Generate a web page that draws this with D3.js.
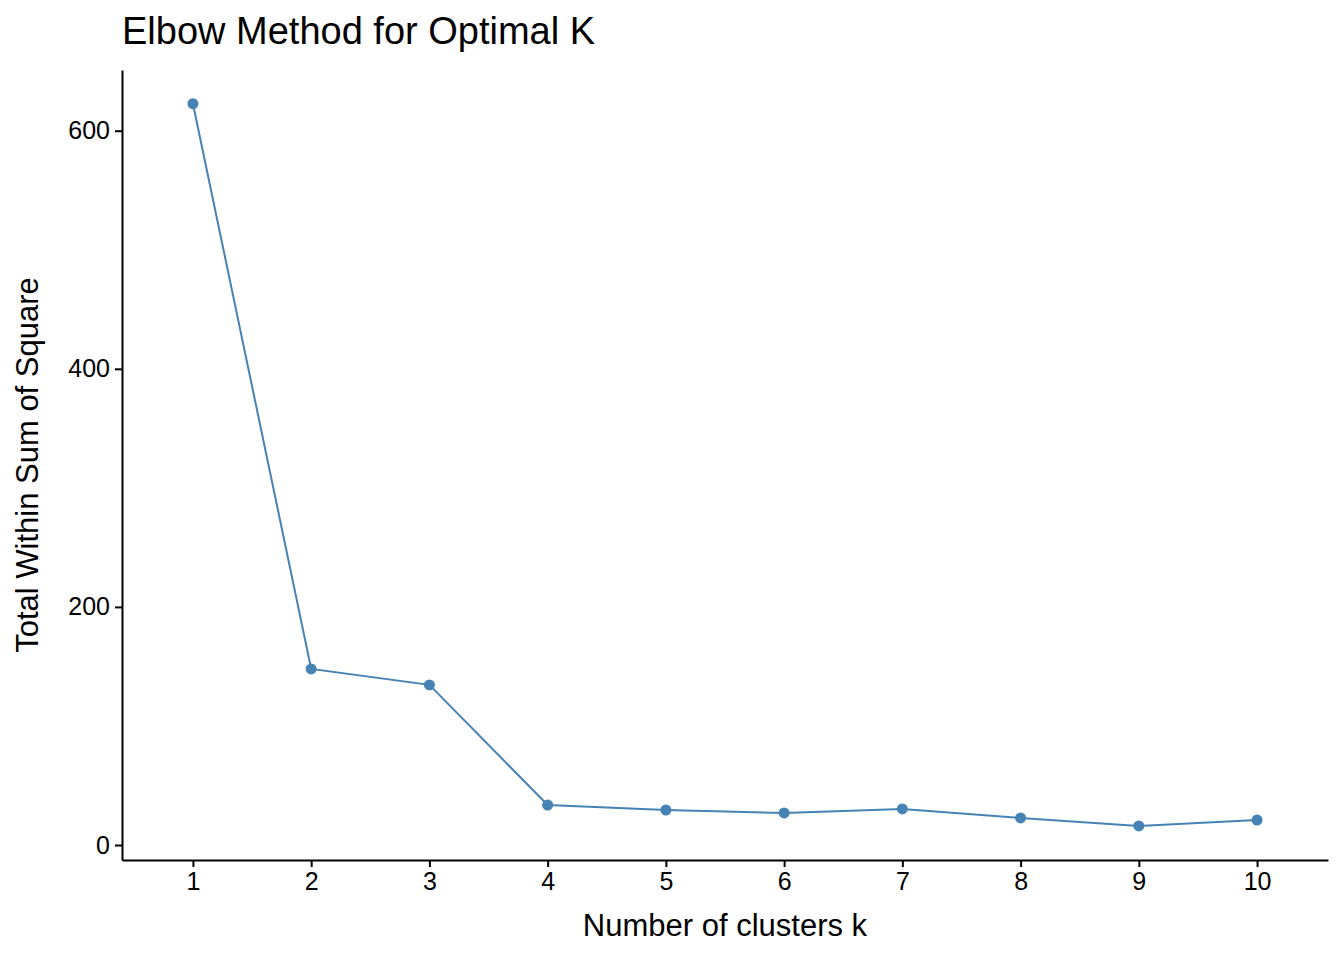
<!DOCTYPE html>
<html><head><meta charset="utf-8">
<script src="https://cdn.jsdelivr.net/npm/d3@7"></script>
<style>body{margin:0;background:#fff}text{font-family:"Liberation Sans",Arial,sans-serif}</style>
</head><body><svg id="c" width="1344" height="960"></svg>
<script>
// valores
var clusters = [1, 2, 3, 4, 5, 6, 7, 8, 9, 10];
var wss = [622.7, 147.9, 134.5, 33.6, 29.4, 26.9, 30.3, 22.7, 16.0, 21.0];
var yTicks = [0, 200, 400, 600];

var svg = d3.select('#c');
var x = d3.scaleLinear().domain([0.4, 10.6]).range([122, 1328]);
var y = d3.scaleLinear().domain([-12.6, 651]).range([860, 70]);

var gx = svg.append('g').attr('transform', 'translate(0,860)')
  .call(d3.axisBottom(x).tickValues(clusters).tickSize(7).tickSizeOuter(0).tickPadding(5));
var gy = svg.append('g').attr('transform', 'translate(122,0)')
  .call(d3.axisLeft(y).tickValues(yTicks).tickSize(7).tickSizeOuter(0).tickPadding(5));
[gx, gy].forEach(function(g) {
  g.attr('font-size', 25).attr('font-family', '"Liberation Sans",Arial,sans-serif');
  g.selectAll('path,line').attr('stroke', '#000').attr('stroke-width', 2);
  g.selectAll('text').attr('fill', '#000');
});

svg.append('path').datum(clusters)
  .attr('fill', 'none').attr('stroke', '#4682B4').attr('stroke-width', 2)
  .attr('d', d3.line().x(function(d) { return x(d); }).y(function(d, i) { return y(wss[i]); }));
svg.selectAll('circle.p').data(clusters).enter().append('circle')
  .attr('cx', function(d) { return x(d); }).attr('cy', function(d, i) { return y(wss[i]); })
  .attr('r', 5.5).attr('fill', '#4682B4');

svg.append('text').attr('x', 122).attr('y', 44).attr('font-size', 38).text('Elbow Method for Optimal K');
svg.append('text').attr('x', 725).attr('y', 936).attr('text-anchor', 'middle').attr('font-size', 31).text('Number of clusters k');
svg.append('text').attr('transform', 'translate(38,465) rotate(-90)').attr('text-anchor', 'middle')
  .attr('font-size', 31).text('Total Within Sum of Square');
</script></body></html>
